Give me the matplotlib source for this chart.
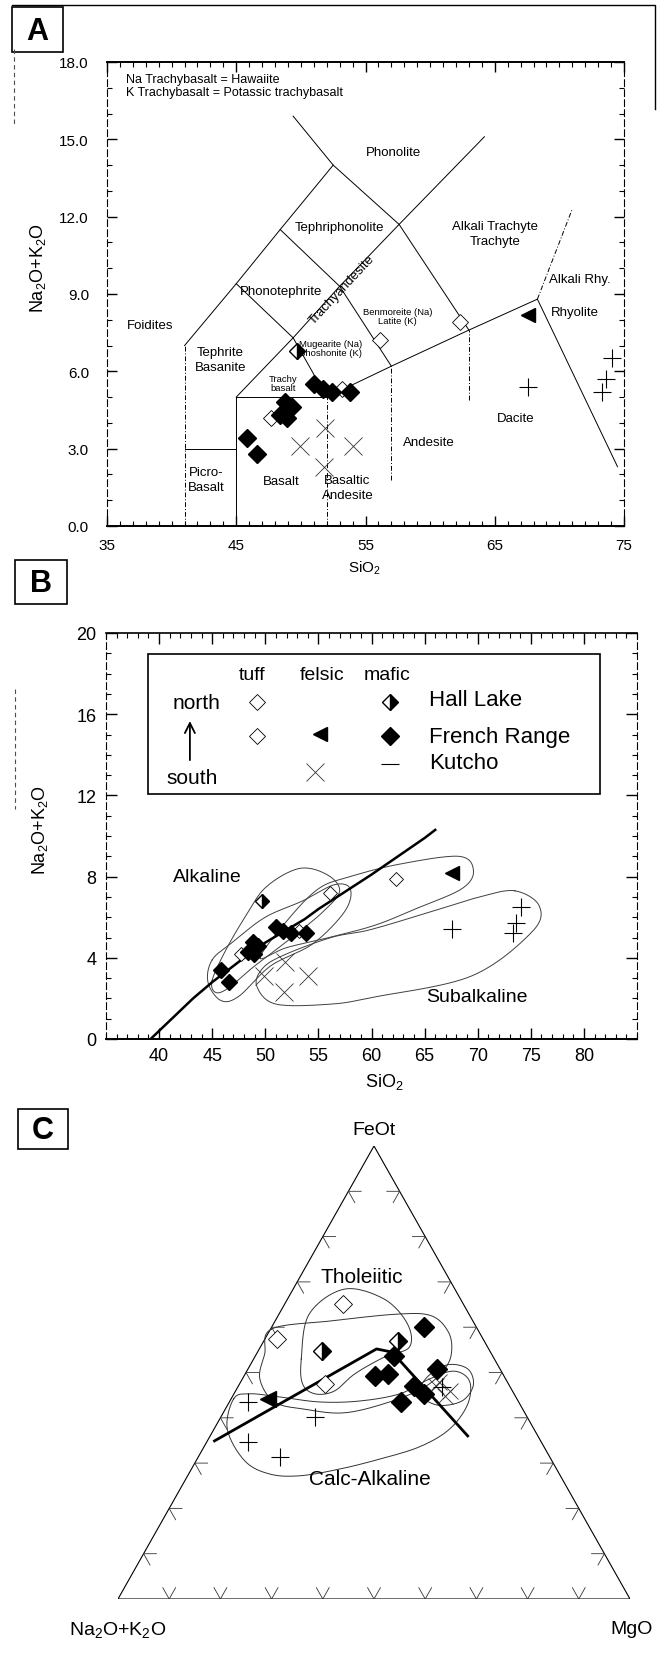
import matplotlib
matplotlib.use('Agg')
import matplotlib.pyplot as plt
import numpy as np
from matplotlib.patches import Rectangle

plt.rcParams['font.family'] = ['Liberation Sans', 'DejaVu Sans']
plt.rcParams['mathtext.default'] = 'regular'

# --- muestras, paneles A y B (SiO2, Na2O+K2O en % peso) ---
tuff_sio2 = [47.7, 53.2, 56.1, 62.3]
tuff_alk = [4.2, 5.3, 7.2, 7.9]
hall_sio2 = [49.7]
hall_alk = [6.8]
fr_mafic_sio2 = [45.8, 46.6, 48.4, 48.8, 49.3, 48.9, 51.0, 51.7, 52.4, 53.8]
fr_mafic_alk = [3.4, 2.8, 4.3, 4.8, 4.6, 4.2, 5.5, 5.3, 5.2, 5.2]
fr_felsic_sio2 = [67.6]
fr_felsic_alk = [8.2]
ku_felsic_sio2 = [49.9, 51.9, 51.8, 54.0]
ku_felsic_alk = [3.1, 3.8, 2.3, 3.1]
ku_mafic_sio2 = [67.6, 73.3, 73.6, 74.1]
ku_mafic_alk = [5.4, 5.2, 5.7, 6.5]

# limites del diagrama TAS
tas_solid = [
    [(41, 3), (45, 3)],
    [(45, 0), (45, 5)],
    [(45, 5), (52, 5)],
    [(45, 5), (49.4, 7.3), (53, 9.3), (57.6, 11.7), (64.2, 15.1)],
    [(41, 7), (45, 9.4), (48.4, 11.5), (52.5, 14)],
    [(49.4, 15.9), (52.5, 14), (57.6, 11.7), (63, 7.6)],
    [(45, 9.4), (49.4, 7.3)],
    [(48.4, 11.5), (53, 9.3)],
    [(49.4, 7.3), (52, 5)],
    [(53, 9.3), (57, 6.2)],
    [(52, 5), (57, 6.2), (63, 7.6), (68.3, 8.8)],
    [(68.3, 8.8), (74.5, 2.3)],
]
tas_dashed = [
    [(41, 0), (41, 7)],
    [(52, 0), (52, 5)],
    [(57, 1.8), (57, 6.2)],
    [(63, 4.9), (63, 7.6)],
    [(68.3, 8.8), (71, 12.3)],
]
tas_names = [
    ('Foidites', 38.3, 7.8), ('Tephrite\nBasanite', 43.8, 6.45),
    ('Picro-\nBasalt', 42.7, 1.8), ('Basalt', 48.5, 1.75),
    ('Basaltic\nAndesite', 53.6, 1.5), ('Andesite', 59.9, 3.25),
    ('Dacite', 66.6, 4.2), ('Phonotephrite', 48.5, 9.1),
    ('Tephriphonolite', 53.0, 11.6), ('Phonolite', 57.2, 14.5),
    ('Alkali Trachyte\nTrachyte', 65.0, 11.35), ('Alkali Rhy.', 71.6, 9.6),
    ('Rhyolite', 71.2, 8.3),
]
tas_small = [
    ('Trachy\nbasalt', 48.6, 5.55), ('Mugearite (Na)\nShoshonite (K)', 52.3, 6.9),
    ('Benmoreite (Na)\nLatite (K)', 57.5, 8.15),
]

# panel B: linea alcalino / subalcalino y campos
ib_sio2 = [39.2, 43.2, 45, 48, 50, 53.7, 55, 60, 65, 66]
ib_alk = [0, 2.0, 2.8, 4.0, 4.75, 5.9, 6.4, 8.1, 9.9, 10.3]
env_b = [
    ([45.0, 46.3, 48.2, 50.1, 53.2, 55.8, 57.0, 55.5, 52.5, 49.0, 46.5, 45.3],
     [2.9, 4.4, 6.1, 7.5, 8.4, 8.1, 7.3, 6.3, 5.0, 3.6, 2.5, 2.3]),
    ([45.0, 44.6, 45.8, 47.5, 50.5, 54.5, 57.5, 58.0, 56.5, 53.5, 50.0, 47.0],
     [3.9, 2.8, 1.9, 2.1, 3.6, 4.7, 6.3, 7.4, 7.6, 6.8, 6.0, 4.8]),
    ([49.5, 52.0, 56.0, 60.3, 64.1, 68.5, 69.6, 68.2, 62.5, 58.0, 55.0, 52.0],
     [4.0, 4.5, 5.0, 5.6, 6.4, 7.4, 8.3, 9.0, 8.6, 8.0, 7.4, 5.8]),
    ([73.5, 75.8, 75.1, 69.4, 60.3, 56.2, 51.0, 49.2, 49.7, 51.6, 56.2, 60.0, 66.4, 70.2],
     [7.3, 6.55, 5.27, 3.1, 2.07, 1.72, 1.72, 2.6, 3.45, 4.1, 5.0, 5.4, 6.4, 7.0]),
]

# panel C: AFM (FeOt %, MgO %; Na2O+K2O = resto)
c_fr_mafic_f = [60.0, 53.6, 49.2, 49.7, 50.8, 47.0, 45.3, 43.5]
c_fr_mafic_m = [29.8, 27.2, 25.5, 27.8, 37.0, 34.4, 37.2, 33.6]
c_hall_f = [54.7, 57.0]
c_hall_m = [12.4, 26.1]
c_tuff_f = [65.1, 57.4, 47.5]
c_tuff_m = [11.3, 2.4, 16.6]
c_fr_felsic_f = [44.2]
c_fr_felsic_m = [7.1]
c_ku_mafic_f = [43.5, 40.2, 34.7, 31.3, 46.8]
c_ku_mafic_m = [3.6, 18.3, 8.0, 15.9, 39.8]
c_ku_felsic_f = [47.9, 45.9, 44.8, 47.0]
c_ku_felsic_m = [38.8, 41.8, 41.4, 38.7]
irvine_f = [34.9, 55.2, 54.5, 36.0]
irvine_m = [1.4, 22.9, 26.3, 50.3]
env_c = [
    ([53.0, 62.9, 68.4, 66.2, 60.7, 55.6, 53.4, 49.7, 45.9, 45.3, 47.5],
     [9.3, 5.9, 10.0, 18.9, 26.2, 29.1, 25.3, 21.4, 19.3, 15.8, 12.3]),
    ([59.6, 61.4, 62.9, 62.5, 58.9, 54.5, 50.8, 46.8, 43.5, 41.1, 41.9, 43.5, 48.6, 54.1],
     [0.2, 11.0, 23.3, 30.0, 35.1, 37.9, 38.4, 36.5, 31.3, 23.7, 15.5, 8.8, 3.4, 1.6]),
    ([44.2, 37.5, 30.5, 27.6, 27.2, 28.7, 30.9, 33.6, 37.5, 43.0, 48.1, 50.3, 48.6,
      45.3, 43.7, 43.5, 44.6, 45.3],
     [0.5, 2.6, 9.5, 15.8, 21.9, 29.0, 35.7, 42.1, 46.0, 46.8, 44.6, 40.5, 36.6,
      32.4, 25.3, 17.6, 9.3, 3.1]),
    ([45.3, 49.0, 51.7, 50.8, 47.2, 43.7, 42.8],
     [36.3, 35.9, 38.5, 42.9, 45.8, 45.3, 41.0]),
]


def cerrada(x, y, n=16):
    # curva suave cerrada (Catmull-Rom)
    p = np.column_stack([x, y]).astype(float)
    q = np.vstack([p[-1], p, p[0], p[1]])
    t = np.linspace(0, 1, n, endpoint=False)[:, None]
    out = []
    for i in range(1, len(p) + 1):
        p0, p1, p2, p3 = q[i - 1], q[i], q[i + 1], q[i + 2]
        out.append(0.5 * (2 * p1 + (p2 - p0) * t + (2 * p0 - 5 * p1 + 4 * p2 - p3) * t ** 2
                          + (3 * p1 - p0 - 3 * p2 + p3) * t ** 3))
    out = np.vstack(out + [out[0][:1]])
    return out[:, 0], out[:, 1]


def tern(f, m):
    f = np.asarray(f, float) / 100
    m = np.asarray(m, float) / 100
    return m + 0.5 * f, f


def muestras(ax, s=1.0):
    ax.plot(tuff_sio2, tuff_alk, 'D', ms=8 * s, mfc='white', mec='k', mew=0.6, ls='none', zorder=4)
    ax.plot(ku_felsic_sio2, ku_felsic_alk, 'x', ms=13 * s, color='0.2', mew=0.6, ls='none', zorder=4)
    ax.plot(ku_mafic_sio2, ku_mafic_alk, '+', ms=13 * s, color='k', mew=0.8, ls='none', zorder=4)
    ax.plot(fr_mafic_sio2, fr_mafic_alk, 'D', ms=9 * s, color='k', ls='none', zorder=5)
    ax.plot(hall_sio2, hall_alk, 'D', ms=8 * s, fillstyle='right', mfc='k', mfcalt='white',
            mec='k', ls='none', zorder=5)
    ax.plot(fr_felsic_sio2, fr_felsic_alk, '<', ms=10 * s, color='k', ls='none', zorder=5)


fig = plt.figure(figsize=(6.64, 16.56), dpi=100)

# ---------------- A ----------------
axA = fig.add_axes([107 / 664, 1 - 527 / 1656, 517 / 664, 464 / 1656])
for seg in tas_solid:
    xs, ys = zip(*seg)
    axA.plot(xs, ys, color='k', lw=0.7)
for seg in tas_dashed:
    xs, ys = zip(*seg)
    axA.plot(xs, ys, color='k', lw=0.7, ls=(0, (5, 2, 1, 2)))
for nombre, x, y in tas_names:
    axA.text(x, y, nombre, fontsize=9.5, ha='center', va='center', linespacing=1.3)
for nombre, x, y in tas_small:
    axA.text(x, y, nombre, fontsize=6.8, ha='center', va='center', linespacing=1.1)
axA.text(53.2, 9.2, 'Trachyandesite', fontsize=9.5, ha='center', va='center', rotation=47)
axA.text(36.5, 17.1, 'Na Trachybasalt = Hawaiite\nK Trachybasalt = Potassic trachybasalt',
         fontsize=9, ha='left', va='center', linespacing=1.1)
muestras(axA)
axA.set_xlim(35, 75)
axA.set_ylim(0, 18)
axA.set_xticks([35, 45, 55, 65, 75])
axA.set_xticks(np.arange(35, 76, 1), minor=True)
axA.set_yticks(np.arange(0, 19, 3))
axA.set_yticklabels(['%.1f' % v for v in np.arange(0, 19, 3)])
axA.set_yticks(np.arange(0, 19, 1), minor=True)
axA.tick_params(which='both', direction='in', top=True, right=True, labelsize=11)
axA.tick_params(which='major', length=7, width=1)
axA.tick_params(which='minor', length=3.5, width=0.8)
axA.tick_params(axis='y', pad=13)
axA.tick_params(axis='x', pad=9)
axA.spines['top'].set_linewidth(1.4)
axA.spines['bottom'].set_linewidth(1.4)
for lado in ['left', 'right']:
    axA.spines[lado].set_linestyle((0, (6, 3)))
    axA.spines[lado].set_linewidth(0.8)

# ---------------- B ----------------
axB = fig.add_axes([106 / 664, 1 - 1040 / 1656, 531 / 664, 406 / 1656])
axB.plot(ib_sio2, ib_alk, color='k', lw=1.8, zorder=3)
for ex, ey in env_b:
    cx, cy = cerrada(ex, ey)
    axB.plot(cx, cy, color='0.25', lw=0.7, zorder=2)
muestras(axB, 0.95)
axB.text(44.5, 8.0, 'Alkaline', fontsize=14, ha='center', va='center')
axB.text(69.9, 2.1, 'Subalkaline', fontsize=14, ha='center', va='center')
axB.set_xlim(35, 85)
axB.set_ylim(0, 20)
axB.set_xticks(np.arange(40, 81, 5))
axB.set_xticks(np.arange(35, 86, 1), minor=True)
axB.set_yticks(np.arange(0, 21, 4))
axB.set_yticks(np.arange(0, 21, 1), minor=True)
axB.tick_params(which='both', direction='in', top=True, right=True, labelsize=13)
axB.tick_params(which='major', length=8, width=1)
axB.tick_params(which='minor', length=3.5, width=0.8)
axB.tick_params(axis='y', pad=7)
axB.tick_params(axis='x', pad=6)
axB.spines['top'].set_linewidth(1.2)
axB.spines['bottom'].set_linewidth(1.4)
for lado in ['left', 'right']:
    axB.spines[lado].set_linestyle((0, (6, 3)))
    axB.spines[lado].set_linewidth(0.8)

# leyenda del panel B
tB = axB.transAxes
axB.add_patch(Rectangle((0.079, 0.603), 0.851, 0.345, transform=tB, fill=False, lw=1.2,
                        ec='k', zorder=6))
for txt, x in [('tuff', 0.275), ('felsic', 0.407), ('mafic', 0.529)]:
    axB.text(x, 0.899, txt, transform=tB, fontsize=14, ha='center', va='center')
axB.text(0.171, 0.830, 'north', transform=tB, fontsize=15, ha='center', va='center')
axB.text(0.162, 0.645, 'south', transform=tB, fontsize=15, ha='center', va='center')
axB.annotate('', xy=(0.158, 0.79), xytext=(0.158, 0.68), xycoords=tB,
             arrowprops=dict(arrowstyle='->', color='k', lw=1.3, mutation_scale=18))
axB.plot([0.284], [0.830], 'D', ms=8, mfc='white', mec='k', mew=0.6, transform=tB)
axB.plot([0.284], [0.746], 'D', ms=8, mfc='white', mec='k', mew=0.6, transform=tB)
axB.plot([0.403], [0.751], '<', ms=10, color='k', transform=tB)
axB.plot([0.394], [0.658], 'x', ms=13, color='0.2', mew=0.6, transform=tB)
axB.plot([0.535], [0.830], 'D', ms=8, fillstyle='right', mfc='k', mfcalt='white', mec='k',
         transform=tB)
axB.plot([0.535], [0.746], 'D', ms=9, color='k', transform=tB)
axB.plot([0.535], [0.677], '_', ms=13, color='k', mew=0.8, transform=tB)
for txt, y in [('Hall Lake', 0.835), ('French Range', 0.746), ('Kutcho', 0.682)]:
    axB.text(0.608, y, txt, transform=tB, fontsize=16, ha='left', va='center')

# ---------------- C ----------------
axC = fig.add_axes([118 / 664, 1 - 1600 / 1656, 512 / 664, 453 / 1656])
axC.set_xlim(0, 1)
axC.set_ylim(0, 1)
axC.axis('off')
axC.plot([0, 1, 0.5, 0], [0, 0, 1, 0], color='k', lw=0.8)
t = 0.025
for k in range(1, 10):
    p = k / 10
    axC.plot([p - 0.5 * t, p, p + 0.5 * t], [t, 0, t], color='0.2', lw=0.6)
    axC.plot([0.5 * p + t, 0.5 * p, 0.5 * p + 0.5 * t], [p, p, p - t], color='0.2', lw=0.6)
    axC.plot([1 - 0.5 * p - t, 1 - 0.5 * p, 1 - 0.5 * p - 0.5 * t], [p, p, p - t],
             color='0.2', lw=0.6)
for ef, em in env_c:
    cx, cy = cerrada(*tern(ef, em))
    axC.plot(cx, cy, color='0.2', lw=0.7, zorder=2)
axC.plot(*tern(irvine_f, irvine_m), color='k', lw=2.0, zorder=3)
axC.plot(*tern(c_tuff_f, c_tuff_m), 'D', ms=9, mfc='white', mec='k', mew=0.6, ls='none', zorder=4)
axC.plot(*tern(c_ku_felsic_f, c_ku_felsic_m), 'x', ms=11, color='0.2', mew=0.6, ls='none', zorder=4)
axC.plot(*tern(c_ku_mafic_f, c_ku_mafic_m), '+', ms=13, color='k', mew=0.8, ls='none', zorder=4)
axC.plot(*tern(c_fr_mafic_f, c_fr_mafic_m), 'D', ms=10, color='k', ls='none', zorder=5)
axC.plot(*tern(c_hall_f, c_hall_m), 'D', ms=9, fillstyle='right', mfc='k', mfcalt='white',
         mec='k', ls='none', zorder=5)
axC.plot(*tern(c_fr_felsic_f, c_fr_felsic_m), '<', ms=11, color='k', ls='none', zorder=5)
axC.text(*tern(71.3, 11.9), 'Tholeiitic', fontsize=15, ha='center', va='center')
axC.text(*tern(26.5, 35.9), 'Calc-Alkaline', fontsize=15, ha='center', va='center')
axC.text(0.5, 1.037, 'FeOt', fontsize=14, ha='center', va='center')
axC.text(0.0, -0.066, 'Na$_2$O+K$_2$O', fontsize=14, ha='center', va='center')
axC.text(1.004, -0.066, 'MgO', fontsize=14, ha='center', va='center')

# ---------------- rotulos y marcos (coordenadas en pixeles) ----------------
deco = fig.add_axes([0, 0, 1, 1], zorder=10)
deco.set_xlim(0, 664)
deco.set_ylim(1656, 0)
deco.axis('off')
deco.plot([12, 655, 655], [6, 6, 110], color='k', lw=1.0)
deco.plot([14, 14], [50, 125], color='0.3', lw=0.8, ls=(0, (4, 3)))
deco.plot([15, 15], [690, 810], color='0.3', lw=0.8, ls=(0, (4, 3)))
for (x0, y0, w, h), letra in [((12, 8, 51, 45), 'A'), ((15, 561, 52, 44), 'B'),
                              ((18, 1110, 50, 40), 'C')]:
    deco.add_patch(Rectangle((x0, y0), w, h, fill=False, ec='k', lw=1.2))
    deco.text(x0 + w / 2, y0 + h / 2 + 1, letra, fontsize=22, fontweight='bold',
              ha='center', va='center')
deco.text(364, 568, 'SiO$_2$', fontsize=11, ha='center', va='center')
deco.text(38, 268, 'Na$_2$O+K$_2$O', fontsize=13, ha='center', va='center', rotation=90)
deco.text(384, 1082, 'SiO$_2$', fontsize=13, ha='center', va='center')
deco.text(40, 830, 'Na$_2$O+K$_2$O', fontsize=13, ha='center', va='center', rotation=90)

fig.savefig('out.png', dpi=100)
